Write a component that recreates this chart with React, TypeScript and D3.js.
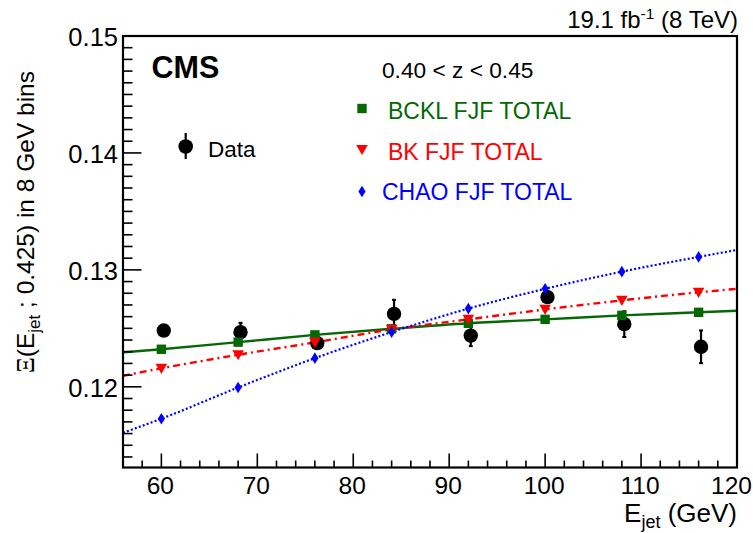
import React from 'react';
import * as d3 from 'd3';

// ---- data ----
const dataE = [60.25, 68.25, 76.25, 84.25, 92.25, 100.25, 108.25, 116.25];
const dataXi = [0.12481, 0.12467, 0.12374, 0.12624, 0.12438, 0.12767, 0.12536, 0.12342];
const dataErr = [0.0004, 0.0008, 0.0005, 0.0012, 0.0009, 0.0005, 0.0011, 0.0014];

const theoryE = [60, 68, 76, 84, 92, 100, 108, 116];
const bcklXi = [0.12321, 0.12382, 0.12444, 0.12496, 0.12543, 0.12577, 0.12611, 0.12637];
const bkXi = [0.12158, 0.12274, 0.1238, 0.12491, 0.12577, 0.12662, 0.12739, 0.12808];
const chaoXi = [0.11727, 0.11994, 0.12245, 0.12468, 0.12669, 0.12838, 0.12985, 0.13111];

const fitE = [56, 60, 68, 76, 84, 92, 100, 108, 116, 120];
const bcklFit = [0.12295, 0.12321, 0.12382, 0.12444, 0.12496, 0.12543, 0.12577, 0.12611, 0.12637, 0.1265];
const bkFit = [0.12094, 0.12158, 0.12274, 0.1238, 0.12491, 0.12577, 0.12662, 0.12739, 0.12808, 0.12838];
const chaoFit = [0.11607, 0.11727, 0.11994, 0.12245, 0.12468, 0.12669, 0.12838, 0.12985, 0.13111, 0.13171];

const xMajorTicks = [60, 70, 80, 90, 100, 110, 120];
const xMinorTicks = [56, 58, 62, 64, 66, 68, 72, 74, 76, 78, 82, 84, 86, 88, 92, 94, 96, 98, 102, 104, 106, 108, 112, 114, 116, 118];
const yMajorTicks = [0.12, 0.13, 0.14, 0.15];
const yMinorTicks = [0.114, 0.115, 0.116, 0.117, 0.118, 0.119, 0.121, 0.122, 0.123, 0.124, 0.125, 0.126, 0.127, 0.128, 0.129, 0.131, 0.132, 0.133, 0.134, 0.135, 0.136, 0.137, 0.138, 0.139, 0.141, 0.142, 0.143, 0.144, 0.145, 0.146, 0.147, 0.148, 0.149];

const GREEN = '#056805';
const RED = '#ff0000';
const BLUE = '#0000ff';
const FONT = '"Liberation Sans", Arial, Helvetica, sans-serif';

const W = 753;
const H = 533;
const L = 123, R = 737, T = 36, B = 467.5;
const XLABEL_SIZE = 24.5;

export default function App() {
  const x = d3.scaleLinear().domain([56, 120]).range([L, R]);
  const y = d3.scaleLinear().domain([0.1131, 0.15]).range([B, T]);

  const line = d3
    .line<[number, number]>()
    .x((d) => x(d[0]))
    .y((d) => y(d[1]))
    .curve(d3.curveMonotoneX);

  const fitPts = (vals: number[]) => fitE.map((e, i) => [e, vals[i]] as [number, number]);

  const square = (cx: number, cy: number, key: any) => (
    <rect key={key} x={cx - 4.7} y={cy - 4.7} width={9.4} height={9.4} fill={GREEN} />
  );
  const triangle = (cx: number, cy: number, key: any) => (
    <path key={key} d={`M${cx - 5.8},${cy - 4.6} L${cx + 5.8},${cy - 4.6} L${cx},${cy + 5.6} Z`} fill={RED} />
  );
  const diamond = (cx: number, cy: number, key: any) => (
    <path key={key} d={`M${cx},${cy - 5.8} L${cx + 3.6},${cy} L${cx},${cy + 5.8} L${cx - 3.6},${cy} Z`} fill={BLUE} />
  );

  const xLabelPos = (t: number) => {
    const half = (String(t).length * 0.556 * XLABEL_SIZE) / 2;
    return Math.min(x(t) - 1, W - half - 1);
  };

  return (
    <svg
      width={W}
      height={H}
      style={{ position: 'absolute', left: 0, top: 0, background: '#fff' }}
      fontFamily={FONT}
    >
      <rect x={0} y={0} width={W} height={H} fill="#fff" />

      {/* fit curves */}
      <path d={line(fitPts(bcklFit)) || ''} fill="none" stroke={GREEN} strokeWidth={2.4} />
      <path d={line(fitPts(bkFit)) || ''} fill="none" stroke={RED} strokeWidth={2.4} strokeDasharray="7 4 2 4" />
      <path d={line(fitPts(chaoFit)) || ''} fill="none" stroke={BLUE} strokeWidth={2.2} strokeDasharray="2 2.2" />

      {/* data points */}
      {dataE.map((e, i) => (
        <g key={'d' + i}>
          <line x1={x(e)} x2={x(e)} y1={y(dataXi[i] - dataErr[i])} y2={y(dataXi[i] + dataErr[i])} stroke="#000" strokeWidth={2.2} />
          <line x1={x(e) - 2} x2={x(e) + 2} y1={y(dataXi[i] + dataErr[i])} y2={y(dataXi[i] + dataErr[i])} stroke="#000" strokeWidth={2} />
          <line x1={x(e) - 2} x2={x(e) + 2} y1={y(dataXi[i] - dataErr[i])} y2={y(dataXi[i] - dataErr[i])} stroke="#000" strokeWidth={2} />
          <circle cx={x(e)} cy={y(dataXi[i])} r={7.2} fill="#000" />
        </g>
      ))}

      {/* theory markers */}
      {theoryE.map((e, i) => square(x(e), y(bcklXi[i]), 'g' + i))}
      {theoryE.map((e, i) => triangle(x(e), y(bkXi[i]), 'r' + i))}
      {theoryE.map((e, i) => diamond(x(e), y(chaoXi[i]), 'b' + i))}

      {/* axes ticks */}
      {xMajorTicks.map((t) => (
        <g key={'xm' + t}>
          <line x1={x(t)} x2={x(t)} y1={B} y2={B - 14} stroke="#000" strokeWidth={1.6} />
          <text x={xLabelPos(t)} y={493.5} fontSize={XLABEL_SIZE} textAnchor="middle" fill="#000">
            {t}
          </text>
        </g>
      ))}
      {xMinorTicks.map((t) => (
        <line key={'xn' + t} x1={x(t)} x2={x(t)} y1={B} y2={B - 7} stroke="#000" strokeWidth={1.6} />
      ))}
      {yMajorTicks.map((t) => (
        <g key={'ym' + t}>
          <line x1={L} x2={L + 18.5} y1={y(t)} y2={y(t)} stroke="#000" strokeWidth={1.6} />
          <text x={118} y={y(t) + 10} fontSize={25.5} textAnchor="end" fill="#000">
            {t.toFixed(2)}
          </text>
        </g>
      ))}
      {yMinorTicks.map((t) => (
        <line key={'yn' + t} x1={L} x2={L + 9.5} y1={y(t)} y2={y(t)} stroke="#000" strokeWidth={1.6} />
      ))}

      {/* frame */}
      <rect x={L} y={T} width={R - L} height={B - T} fill="none" stroke="#000" strokeWidth={2.2} />

      {/* axis titles */}
      <text x={737} y={522} fontSize={26} textAnchor="end" fill="#000">
        E<tspan dy={6} fontSize={18}>jet</tspan>
        <tspan dy={-6}> (GeV)</tspan>
      </text>
      <text transform="translate(34,71) rotate(-90)" fontSize={24.5} textAnchor="end" fill="#000">
        <tspan fontFamily='"Liberation Serif", "DejaVu Serif", serif'>Ξ</tspan>
        <tspan>(E</tspan>
        <tspan dy={6} fontSize={17}>jet</tspan>
        <tspan dy={-6}> ;  0.425) in 8 GeV bins</tspan>
      </text>

      {/* header */}
      <text x={738} y={28} fontSize={24} textAnchor="end" fill="#000">
        19.1 fb<tspan dy={-9} fontSize={15.5}>-1</tspan>
        <tspan dy={9}> (8 TeV)</tspan>
      </text>
      <text x={151.5} y={78} fontSize={30.5} fontWeight="bold" fill="#000">
        CMS
      </text>

      {/* legend */}
      <line x1={185.7} x2={185.7} y1={133} y2={159} stroke="#000" strokeWidth={2.2} />
      <circle cx={185.7} cy={146.5} r={7.3} fill="#000" />
      <text x={208} y={156.5} fontSize={22.5} fill="#000">
        Data
      </text>

      <text x={382} y={77.5} fontSize={22.7} fill="#000">
        {'0.40 < z < 0.45'}
      </text>
      {square(362, 108.5, 'lg')}
      <text x={388} y={118.5} fontSize={23} fill={GREEN}>
        BCKL FJF TOTAL
      </text>
      {triangle(362, 149.5, 'lr')}
      <text x={388} y={159.5} fontSize={23} fill={RED}>
        BK FJF TOTAL
      </text>
      {diamond(362, 191.5, 'lb')}
      <text x={382} y={199.5} fontSize={23} fill={BLUE}>
        CHAO FJF TOTAL
      </text>
    </svg>
  );
}
